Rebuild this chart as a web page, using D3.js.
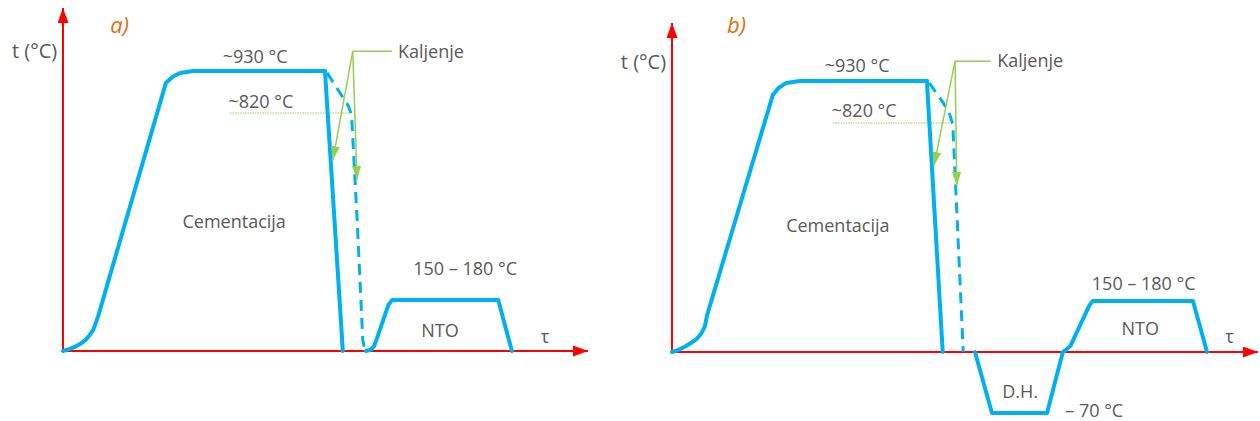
<!DOCTYPE html>
<html><head><meta charset="utf-8">
<script src="https://cdn.jsdelivr.net/npm/d3@7"></script>
<style>html,body{margin:0;padding:0;background:#fff;}svg{display:block;}</style>
</head><body>
<svg id="chart" width="1260" height="421"></svg>
<script>
// ---- Data (time in arbitrary units 0..100, temperature in °C on a schematic scale) ----
const tempBreaks = [-70, 0, 165, 820, 930];          // schematic temperature levels
const axisTopA = 1095, axisTopB = 1082;              // y-axis arrow tip levels

// Panel a) – heating, carburizing, quench, tempering
const curveA_carb   = [[0,0],[1.2,6],[2.3,14],[3.4,24],[4.3,36],[5.1,52],[5.8,70],[6.7,113],[19.6,899],[20.9,915],[22.3,925],[24.8,930],[49.9,930]];
const curveA_quench = [[49.9,930],[53.3,0]];
const curveA_dashed = [[50.3,925],[53.3,861],[54.3,840],[54.8,822],[55.0,800],[56.0,456],[57.1,36],[57.4,12],[57.7,3]];
const curveA_nto    = [[57.7,0],[58.6,4],[59.2,14],[59.7,36],[62.0,150],[62.7,165],[82.9,165],[85.5,0]];
const annotA_h      = [[55.2,982],[62.7,982]];
const annotA_arrows = [[[55.2,982],[51.4,655]],[[55.2,982],[56.0,585]]];
const dottedA       = [[31.8,820],[54.7,820]];

// Panel b) – with deep cooling (D.H.)
const curveB_carb   = [[0,0],[1.1,7],[2.2,17],[3.2,29],[4.2,42],[5.0,60],[5.6,82],[6.0,120],[17.2,893],[18.2,912],[19.5,925],[21.8,930],[43.5,930]];
const curveB_quench = [[43.5,930],[46.2,0]];
const curveB_dashed = [[43.9,925],[46.4,870],[47.4,842],[47.8,822],[47.95,800],[49.7,0]];
const curveB_dh     = [[51.7,0],[54.6,-70],[64.0,-70],[66.7,0],[67.3,8],[68.0,20],[71.2,150],[71.8,165],[88.9,165],[91.3,0]];
const annotB_h      = [[48.3,982],[54.4,982]];
const annotB_arrows = [[[48.3,982],[44.7,662]],[[48.3,982],[48.6,588]]];
const dottedB       = [[27.5,820],[47.8,820]];

// Labels: [text, x, y, anchor, kind]
const labelsA = [
  ["a)", 9.0, 1030, "start", "title"],
  ["t (°C)", -1.1, 965, "end", "axis"],
  ["~930 °C", 36.6, 951, "middle", "text"],
  ["~820 °C", 37.7, 833, "middle", "text"],
  ["Kaljenje", 63.8, 964, "start", "text"],
  ["Cementacija", 32.6, 417, "middle", "text"],
  ["150 – 180 °C", 76.6, 253, "middle", "text"],
  ["NTO", 71.8, 45, "middle", "text"],
  ["τ", 91.0, 26, "start", "text"]
];
const labelsB = [
  ["b)", 9.4, 1056, "start", "title"],
  ["t (°C)", -1.0, 962, "end", "axis"],
  ["~930 °C", 31.6, 954, "middle", "text"],
  ["~820 °C", 32.8, 836, "middle", "text"],
  ["Kaljenje", 55.5, 967, "start", "text"],
  ["Cementacija", 28.3, 419, "middle", "text"],
  ["150 – 180 °C", 80.5, 205, "middle", "text"],
  ["NTO", 79.9, 55, "middle", "text"],
  ["τ", 94.4, 29, "start", "text"],
  ["D.H.", 59.4, -53, "middle", "text"],
  ["– 70 °C", 67.1, -75, "start", "text"]
];

// ---- Drawing ----
const svg = d3.select("#chart");
const BLUE = "#00b0f0", RED = "#ff0000", GREEN = "#92d050", GREY = "#595959", ORANGE = "#e46c0a";
const FONT = "'Open Sans', Lato, sans-serif";
const SIZES = {title: 22, axis: 20, text: 18};

const defs = svg.append("defs");
function marker(id, color, w, h) {
  defs.append("marker").attr("id", id).attr("viewBox", `0 0 ${h} ${w}`)
    .attr("refX", h).attr("refY", w/2).attr("markerWidth", h).attr("markerHeight", w)
    .attr("markerUnits", "userSpaceOnUse").attr("orient", "auto")
    .append("path").attr("d", `M0,0L${h},${w/2}L0,${w}Z`).attr("fill", color);
}
marker("arrRed", RED, 11, 15);
marker("arrGreen", GREEN, 9, 14);

function panel(cfg) {
  const x = d3.scaleLinear().domain([0, 100]).range(cfg.xRange);
  const y = d3.scaleLinear().domain(tempBreaks).range(cfg.yRange);
  const g = svg.append("g");
  const line = d3.line().x(d => x(d[0])).y(d => y(d[1])).curve(d3.curveLinear);

  // axes
  g.append("line").attr("x1", x(0)).attr("y1", y(0)).attr("x2", x(0)).attr("y2", y(cfg.axisTop))
    .attr("stroke", RED).attr("stroke-width", 2).attr("marker-end", "url(#arrRed)");
  g.append("line").attr("x1", x(0)).attr("y1", y(0)).attr("x2", x(100)).attr("y2", y(0))
    .attr("stroke", RED).attr("stroke-width", 2).attr("marker-end", "url(#arrRed)");

  // dotted 820 guide
  g.append("path").attr("d", line(cfg.dotted)).attr("fill", "none")
    .attr("stroke", GREEN).attr("stroke-width", 1).attr("stroke-dasharray", "1.5,1");

  // curves
  cfg.solid.forEach(c => g.append("path").attr("d", line(c)).attr("fill", "none")
    .attr("stroke", BLUE).attr("stroke-width", 4).attr("stroke-linejoin", "round").attr("stroke-linecap", "round"));
  g.append("path").attr("d", line(cfg.dashed)).attr("fill", "none")
    .attr("stroke", BLUE).attr("stroke-width", 3).attr("stroke-linejoin", "round").attr("stroke-dasharray", "11,7");

  // annotation
  g.append("path").attr("d", line(cfg.annotH)).attr("fill", "none").attr("stroke", GREEN).attr("stroke-width", 1.5);
  cfg.annotArrows.forEach(a => g.append("path").attr("d", line(a)).attr("fill", "none")
    .attr("stroke", GREEN).attr("stroke-width", 1.5).attr("marker-end", "url(#arrGreen)"));

  // labels
  cfg.labels.forEach(([t, lx, ly, anchor, kind]) => {
    g.append("text").attr("x", x(lx)).attr("y", y(ly)).attr("text-anchor", anchor)
      .attr("font-family", FONT)
      .attr("font-size", SIZES[kind])
      .attr("font-style", kind === "title" ? "italic" : "normal")
      .attr("fill", kind === "title" ? ORANGE : GREY)
      .text(t);
  });
}

panel({
  xRange: [63, 588], yRange: [412, 351, 300, 113, 71], axisTop: axisTopA,
  solid: [curveA_carb, curveA_quench, curveA_nto], dashed: curveA_dashed,
  annotH: annotA_h, annotArrows: annotA_arrows, dotted: dottedA, labels: labelsA
});
panel({
  xRange: [672, 1258], yRange: [413, 352, 301, 123, 81], axisTop: axisTopB,
  solid: [curveB_carb, curveB_quench, curveB_dh], dashed: curveB_dashed,
  annotH: annotB_h, annotArrows: annotB_arrows, dotted: dottedB, labels: labelsB
});
</script>
</body></html>
